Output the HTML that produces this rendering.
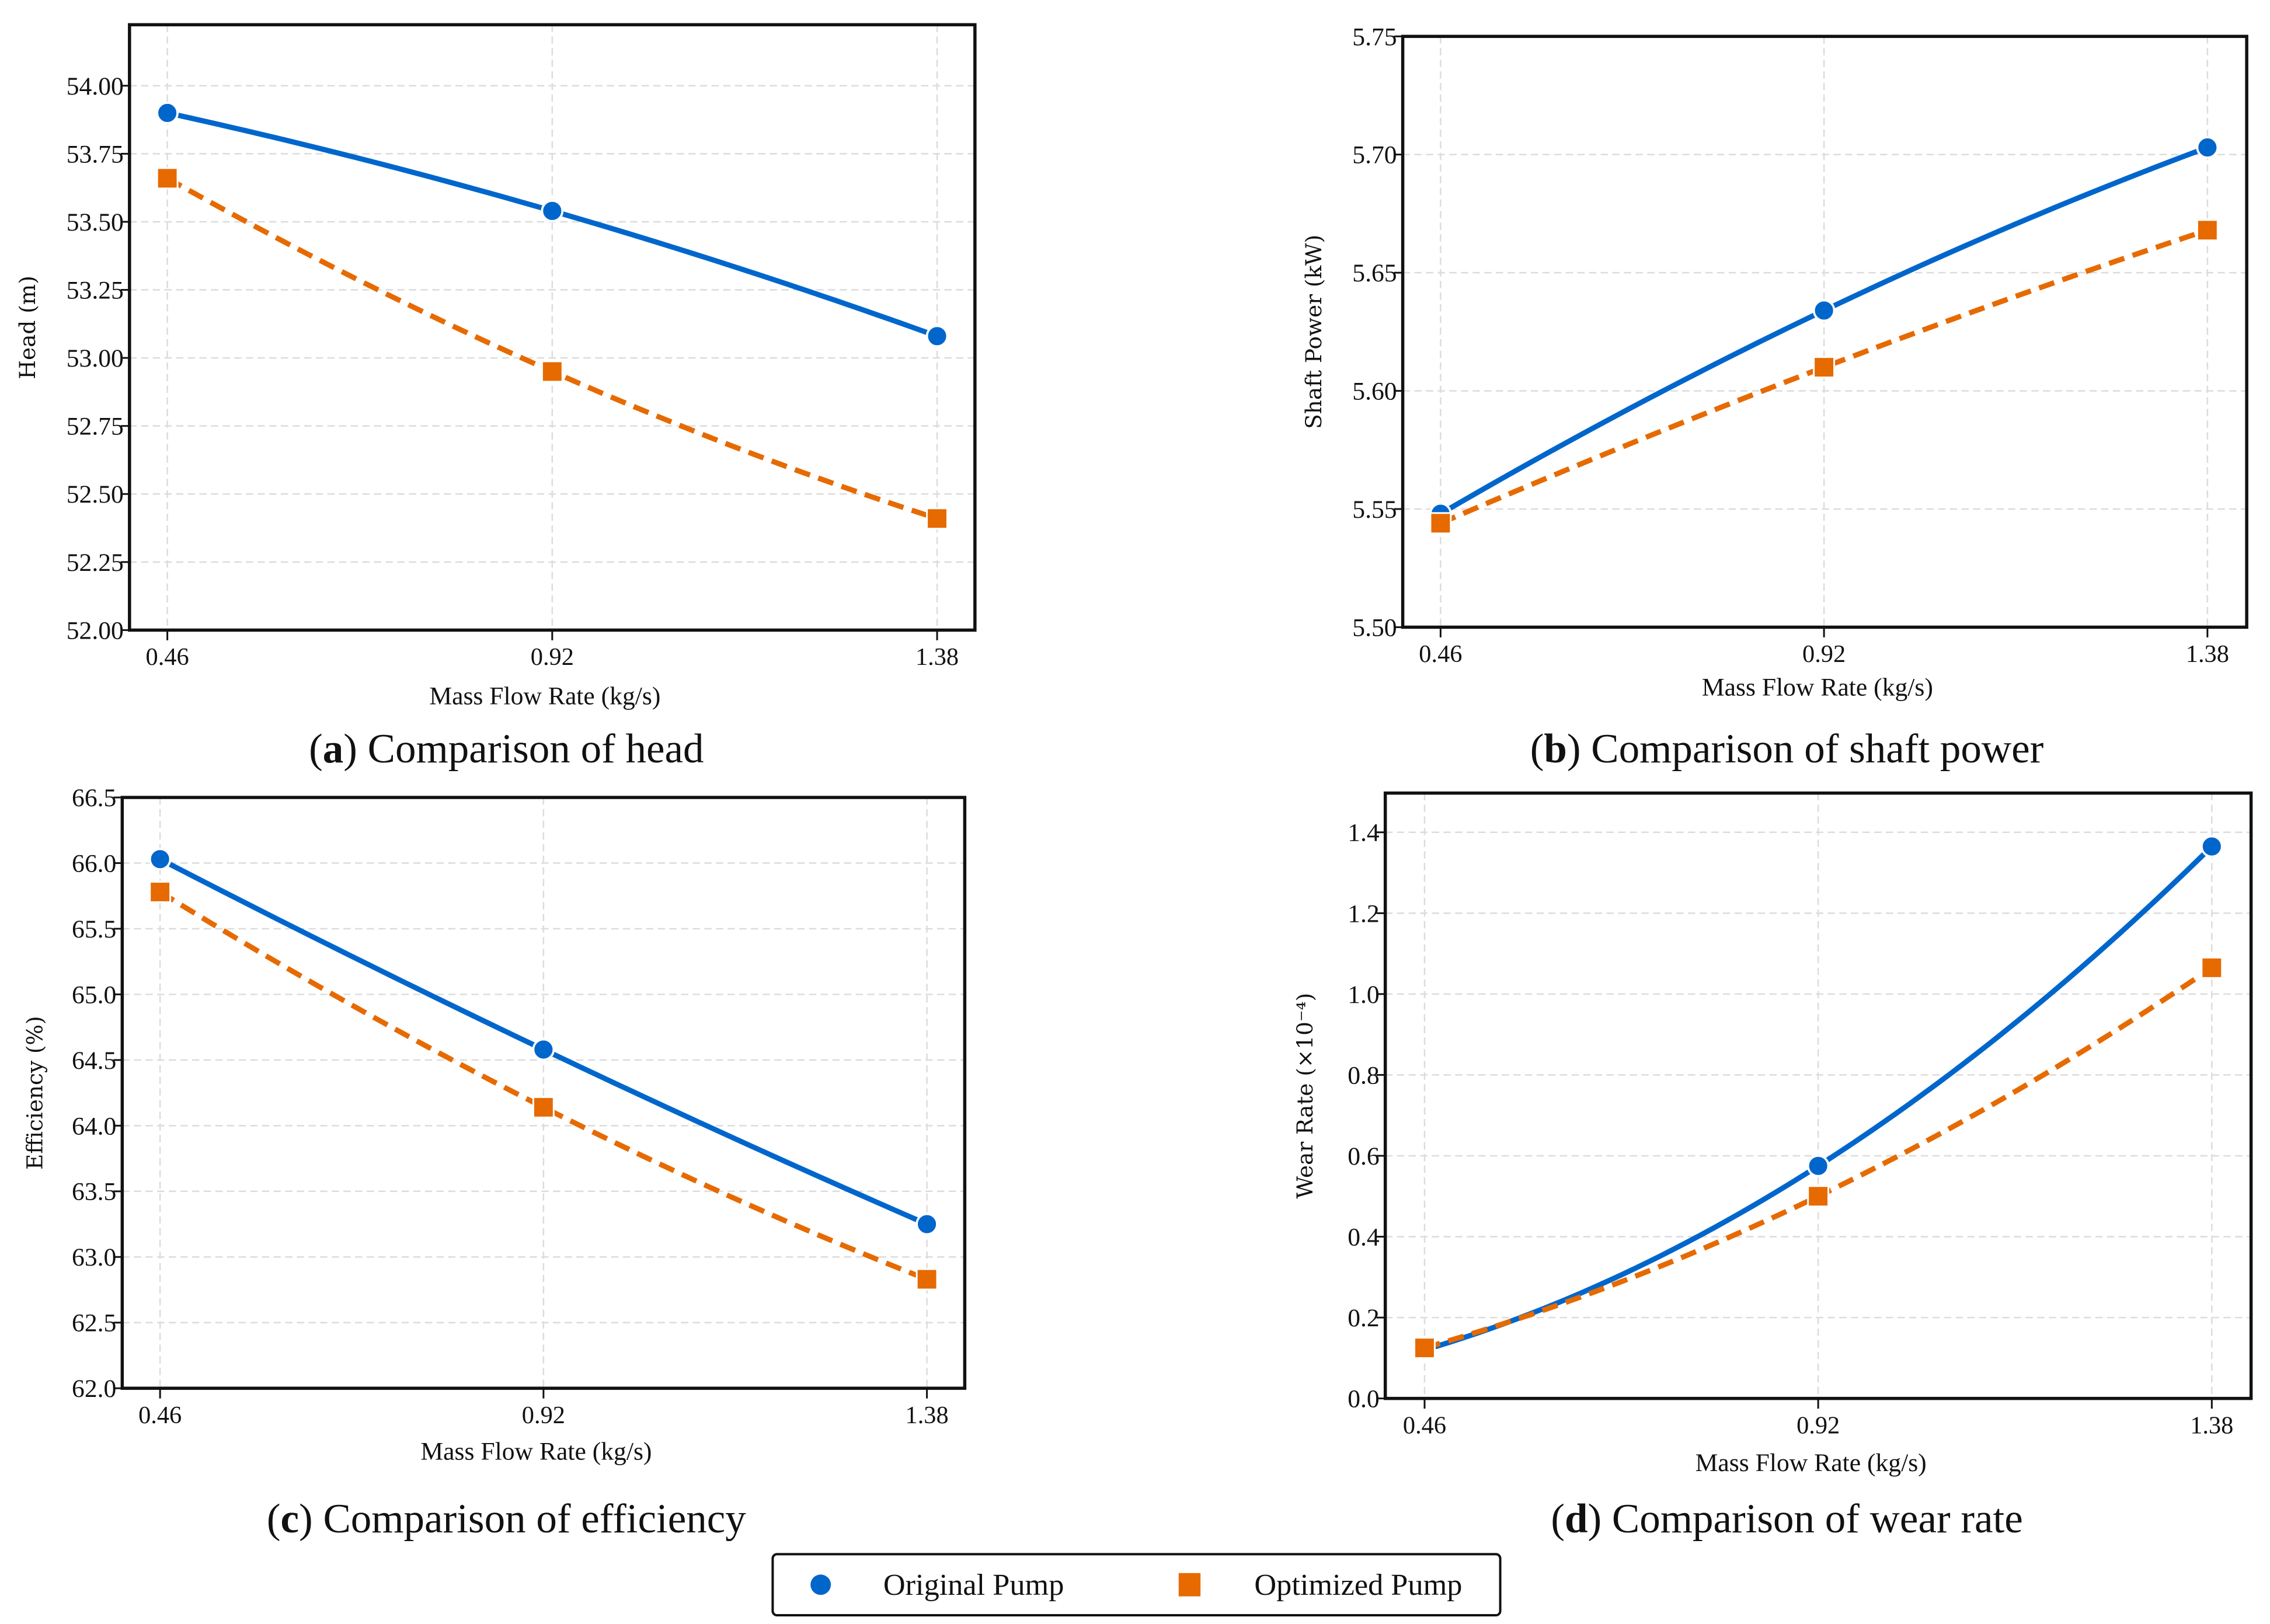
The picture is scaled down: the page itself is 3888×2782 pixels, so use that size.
<!DOCTYPE html>
<html><head><meta charset="utf-8"><style>
html,body{margin:0;padding:0;background:#fff;}
svg{display:block;}
text{font-family:"Liberation Serif",serif;fill:#111;}
</style></head>
<body>
<svg id="fig" width="3888" height="2782" viewBox="0 0 1560 1116" preserveAspectRatio="none" xmlns="http://www.w3.org/2000/svg">
<rect x="0" y="0" width="1560" height="1116" fill="#fff"/>
<g id="legend">
<rect x="531" y="1068" width="500" height="42" rx="3" fill="#fff" stroke="#111" stroke-width="1.6"/>
<circle cx="564" cy="1089" r="7" fill="#0066CC"/>
<text x="607" y="1096" font-size="21">Original Pump</text>
<rect x="810" y="1081" width="15" height="16" fill="#E66A00"/>
<text x="862" y="1096" font-size="21">Optimized Pump</text>
</g>
</svg>
<script>
// x categories
const flowRates = [0.46, 0.92, 1.38];
const xTickLabels = ["0.46", "0.92", "1.38"];
// panel a: head (m)
const headOriginal = [53.90, 53.54, 53.08];
const headOptimized = [53.66, 52.95, 52.41];
const headTicks = [52.00, 52.25, 52.50, 52.75, 53.00, 53.25, 53.50, 53.75, 54.00];
const headTickLabels = ["52.00","52.25","52.50","52.75","53.00","53.25","53.50","53.75","54.00"];
// panel b: shaft power (kW)
const powerOriginal = [5.548, 5.634, 5.703];
const powerOptimized = [5.544, 5.610, 5.668];
const powerTicks = [5.50, 5.55, 5.60, 5.65, 5.70, 5.75];
const powerTickLabels = ["5.50","5.55","5.60","5.65","5.70","5.75"];
// panel c: efficiency (%)
const effOriginal = [66.03, 64.58, 63.25];
const effOptimized = [65.78, 64.14, 62.83];
const effTicks = [62.0, 62.5, 63.0, 63.5, 64.0, 64.5, 65.0, 65.5, 66.0, 66.5];
const effTickLabels = ["62.0","62.5","63.0","63.5","64.0","64.5","65.0","65.5","66.0","66.5"];
// panel d: wear rate (x1e-4)
const wearOriginal = [0.12, 0.575, 1.365];
const wearOptimized = [0.125, 0.50, 1.065];
const wearTicks = [0.0, 0.2, 0.4, 0.6, 0.8, 1.0, 1.2, 1.4];
const wearTickLabels = ["0.0","0.2","0.4","0.6","0.8","1.0","1.2","1.4"];

const NS = "http://www.w3.org/2000/svg";
const svg = document.getElementById("fig");
function mk(tag, attrs, parent){
  const e = document.createElementNS(NS, tag);
  for (const k in attrs) e.setAttribute(k, attrs[k]);
  (parent||svg).appendChild(e);
  return e;
}
function panel(cfg){
  const g = mk("g", {});
  
  
  const xs = v => cfg.px0 + (v - flowRates[0]) / (flowRates[2] - flowRates[0]) * (cfg.px1 - cfg.px0);
  const ys = v => cfg.bottom - (v - cfg.ymin) / (cfg.ymax - cfg.ymin) * (cfg.bottom - cfg.top);
  cfg.ticks.forEach((t, i) => {
    const y = ys(t);
    const gl = mk("line", {x1: cfg.left, x2: cfg.right, y1: y, y2: y, stroke: "#dcdcdc", "stroke-width": 1, "stroke-dasharray": "5,3"}, g);
    
    
    const tk = mk("line", {x1: cfg.left - 6, x2: cfg.left, y1: y, y2: y, stroke: "#111", "stroke-width": 1.2}, g);
    
    
    const tl = mk("text", {x: cfg.left - 4, y: y + 6, "font-size": 17.5, "text-anchor": "end"}, g);
    tl.textContent = cfg.labels[i];
    
    
  });
  flowRates.forEach((f, i) => {
    const x = xs(f);
    const gl = mk("line", {x1: x, x2: x, y1: cfg.top, y2: cfg.bottom, stroke: "#dcdcdc", "stroke-width": 1, "stroke-dasharray": "5,3"}, g);
    
    
    const tk = mk("line", {x1: x, x2: x, y1: cfg.bottom, y2: cfg.bottom + 7, stroke: "#111", "stroke-width": 1.2}, g);
    
    
    const tl = mk("text", {x: x, y: cfg.bottom + 24, "font-size": 17, "text-anchor": "middle"}, g);
    tl.textContent = xTickLabels[i];
    
    
  });
  function series(vals, color, dashed, marker, nm){
    const x0 = flowRates[0], x1 = flowRates[1], x2 = flowRates[2];
    const L = x => vals[0]*(x-x1)*(x-x2)/((x0-x1)*(x0-x2)) + vals[1]*(x-x0)*(x-x2)/((x1-x0)*(x1-x2)) + vals[2]*(x-x0)*(x-x1)/((x2-x0)*(x2-x1));
    let d = "";
    for (let k = 0; k <= 60; k++){
      const x = x0 + (x2 - x0) * k / 60;
      d += (k ? "L" : "M") + xs(x).toFixed(2) + "," + ys(L(x)).toFixed(2);
    }
    const p = mk("path", {d: d, fill: "none", stroke: color, "stroke-width": 3.6, "stroke-linecap": "butt"}, g);
    if (dashed) p.setAttribute("stroke-dasharray", "11,6");
    
    
    vals.forEach((v, i) => {
      const x = xs(flowRates[i]), y = ys(v);
      let m;
      if (marker === "circle") m = mk("circle", {cx: x, cy: y, r: 7, fill: color, stroke: "#fff", "stroke-width": 1.5}, g);
      else m = mk("rect", {x: x - 7, y: y - 7, width: 14, height: 14, fill: color, stroke: "#fff", "stroke-width": 1.2}, g);
      
      
    });
  }
  series(cfg.orig, "#0066CC", false, "circle", cfg.name + "-original");
  series(cfg.opt, "#E66A00", true, "square", cfg.name + "-optimized");
  const box = mk("rect", {x: cfg.left, y: cfg.top, width: cfg.right - cfg.left, height: cfg.bottom - cfg.top, fill: "none", stroke: "#111", "stroke-width": 2.2}, g);
  
  
  const xl = mk("text", {x: (cfg.left + cfg.right) / 2 - 5, y: cfg.xlabY, "font-size": 17.5, "text-anchor": "middle"}, g);
  xl.textContent = "Mass Flow Rate (kg/s)";
  
  
  const cy = (cfg.top + cfg.bottom) / 2;
  const yl = mk("text", {x: 0, y: 0, "font-size": 15, "text-anchor": "middle", transform: "translate(" + cfg.ylabX + "," + cy + ") rotate(-90)", style: 'font-family:"DejaVu Serif",serif'}, g);
  yl.textContent = cfg.ylab;
  
  
  const cap = mk("text", {x: cfg.capX, y: cfg.capY, "font-size": 28.5, "text-anchor": "middle"}, g);
  cap.innerHTML = '(<tspan font-weight="bold">' + cfg.letter + '</tspan>) ' + cfg.cap;
  
  
}
panel({name: "head-chart", left: 89, right: 670, top: 17, bottom: 433, px0: 115, px1: 644, ymin: 52, ymax: 54.224, ticks: headTicks, labels: headTickLabels, orig: headOriginal, opt: headOptimized, xlabY: 484, ylabX: 24, ylab: "Head (m)", capX: 348, capY: 524, letter: "a", cap: "Comparison of head"});
panel({name: "power-chart", left: 964, right: 1544, top: 25, bottom: 431, px0: 990, px1: 1517, ymin: 5.5, ymax: 5.75, ticks: powerTicks, labels: powerTickLabels, orig: powerOriginal, opt: powerOptimized, xlabY: 478, ylabX: 908, ylab: "Shaft Power (kW)", capX: 1228, capY: 524, letter: "b", cap: "Comparison of shaft power"});
panel({name: "efficiency-chart", left: 84, right: 663, top: 548, bottom: 954, px0: 110, px1: 637, ymin: 62, ymax: 66.5, ticks: effTicks, labels: effTickLabels, orig: effOriginal, opt: effOptimized, xlabY: 1003, ylabX: 29, ylab: "Efficiency (%)", capX: 348, capY: 1053, letter: "c", cap: "Comparison of efficiency"});
panel({name: "wear-chart", left: 952, right: 1547, top: 545, bottom: 961, px0: 979, px1: 1520, ymin: 0, ymax: 1.497, ticks: wearTicks, labels: wearTickLabels, orig: wearOriginal, opt: wearOptimized, xlabY: 1011, ylabX: 902, ylab: "Wear Rate (×10⁻⁴)", capX: 1228, capY: 1053, letter: "d", cap: "Comparison of wear rate"});
svg.appendChild(document.getElementById("legend"));
</script>
</body></html>
